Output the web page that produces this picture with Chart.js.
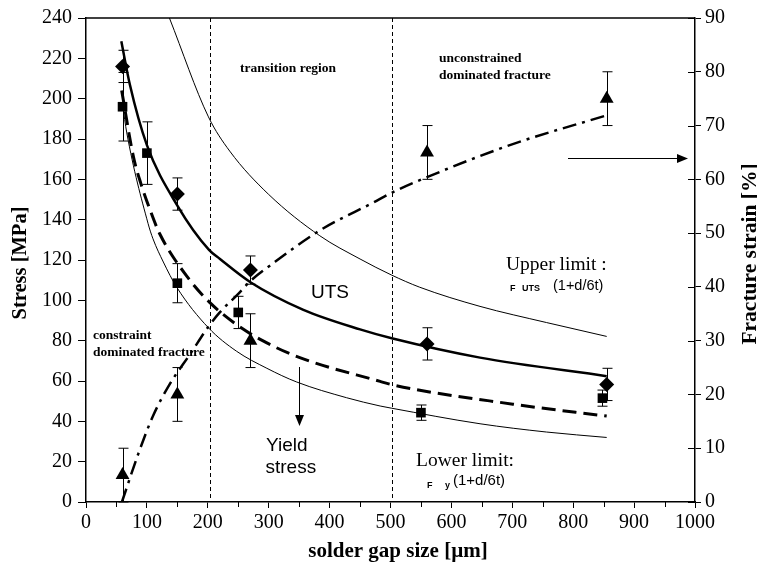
<!DOCTYPE html>
<html>
<head>
<meta charset="utf-8">
<script src="https://cdn.jsdelivr.net/npm/chart.js@4.4.1/dist/chart.umd.min.js"></script>
<style>
    html, body { margin: 0; padding: 0; background: #fff; }
</style>
</head>
<body>
<canvas id="stressChart" width="757" height="568"></canvas>
<script>
// measured points with error bars
const utsX = [60, 150, 270, 560, 855];
const utsY = [216, 152.7, 115, 78.4, 58.3];
const utsErr = [8, 8, 7, 8, 8];

const yieldX = [60, 100, 150, 250, 550, 848];
const yieldY = [196, 173, 108.5, 94, 44.3, 51.5];
const yieldErr = [17, 15.5, 9.7, 8, 3.8, 4];

const strainX = [60, 150, 270, 560, 855];
const strainY = [5, 20, 30, 65, 75];
const strainErr = [5, 5, 5, 5, 5];

// curves
const utsFitX = [58, 72, 100, 150, 202, 220, 270, 357, 450, 502, 647, 855];
const utsFitY = [228.5, 207, 177, 147, 125, 120.5, 109, 95.3, 85.6, 81.2, 71.6, 62.4];

const yieldFitX = [58.6, 78, 90, 105, 121, 168, 203, 247, 290, 350, 483, 502, 701, 855];
const yieldFitY = [204, 171, 158, 145, 133, 111, 99, 88, 80, 71.7, 59.8, 58.2, 48.5, 42.6];

const upperX = [137, 201, 236, 300, 384, 450, 502, 548, 647, 756, 855];
const upperY = [240, 191, 174, 152.5, 132, 120.5, 112.5, 106.5, 97, 89, 82.1];

const lowerX = [60, 67, 102, 110, 127, 149, 201, 247, 297, 346, 428, 483, 502, 647, 756, 855];
const lowerY = [197, 183, 138, 130.5, 119, 106.5, 86.4, 74.8, 66.3, 59.5, 51.7, 47.6, 46.5, 38.8, 34.7, 32];

const strainFitX = [59, 86, 110, 138, 171, 201, 220, 250, 269, 305, 384, 472, 502, 562, 702, 852];
const strainFitY = [0, 9, 16, 22, 27.5, 32.6, 35.3, 38.7, 41, 44.2, 50.5, 55.7, 57.5, 60.5, 66.6, 71.8];

// region borders
const regionLines = [203, 502];

const xTicks = { min: 0, max: 1000, step: 100 };
const stressTicks = { min: 0, max: 240, step: 20 };
const strainTicks = { min: 0, max: 90, step: 10 };

const SERIF = '"Liberation Serif", "Times New Roman", serif';
const SANS = '"Liberation Sans", Arial, sans-serif';

function pts(xs, ys) {
    return xs.map((x, i) => ({ x: x, y: ys[i] }));
}

function curve(label, xs, ys, axis, width, dash) {
    return {
        label: label,
        data: pts(xs, ys),
        yAxisID: axis,
        borderColor: '#000',
        borderWidth: width,
        borderDash: dash,
        pointRadius: 0,
        fill: false,
        cubicInterpolationMode: 'monotone',
        order: 2
    };
}

function markers(label, xs, ys, axis, style, radius) {
    return {
        label: label,
        data: pts(xs, ys),
        yAxisID: axis,
        showLine: false,
        pointStyle: style,
        pointRadius: radius,
        pointBackgroundColor: '#000',
        pointBorderColor: '#000',
        pointBorderWidth: 0,
        order: 1
    };
}

// error bars, guide lines, texts
const extras = {
    id: 'extras',
    beforeDatasetsDraw(chart) {
        const ctx = chart.ctx;
        const a = chart.chartArea;
        const x = chart.scales.x;
        ctx.save();
        ctx.strokeStyle = '#000';
        ctx.lineWidth = 1;
        ctx.setLineDash([4, 3]);
        regionLines.forEach(v => {
            const px = Math.round(x.getPixelForValue(v)) + 0.5;
            ctx.beginPath();
            ctx.moveTo(px, a.top);
            ctx.lineTo(px, a.bottom);
            ctx.stroke();
        });
        ctx.setLineDash([]);

        const bars = [
            [utsX, utsY, utsErr, 'y'],
            [yieldX, yieldY, yieldErr, 'y'],
            [strainX, strainY, strainErr, 'y2']
        ];
        bars.forEach(([xs, ys, es, axis]) => {
            const s = chart.scales[axis];
            xs.forEach((v, i) => {
                const px = Math.round(x.getPixelForValue(v)) + 0.5;
                const top = s.getPixelForValue(ys[i] + es[i]);
                const bot = s.getPixelForValue(Math.max(ys[i] - es[i], 0));
                ctx.beginPath();
                ctx.moveTo(px, top);
                ctx.lineTo(px, bot);
                ctx.moveTo(px - 5, top);
                ctx.lineTo(px + 5, top);
                ctx.moveTo(px - 5, bot);
                ctx.lineTo(px + 5, bot);
                ctx.stroke();
            });
        });
        ctx.restore();
    },
    afterDraw(chart) {
        const ctx = chart.ctx;
        const a = chart.chartArea;
        const x = chart.scales.x;
        const y2 = chart.scales.y2;
        ctx.save();
        ctx.strokeStyle = '#000';
        ctx.fillStyle = '#000';

        // frame top
        ctx.lineWidth = 1.5;
        ctx.beginPath();
        ctx.moveTo(a.left, a.top);
        ctx.lineTo(a.right, a.top);
        ctx.stroke();

        // inner part of right ticks, minor x ticks
        ctx.lineWidth = 1;
        ctx.beginPath();
        for (let v = strainTicks.min; v <= strainTicks.max; v += strainTicks.step) {
            const py = Math.round(y2.getPixelForValue(v)) + 0.5;
            ctx.moveTo(a.right - 7, py);
            ctx.lineTo(a.right, py);
        }
        for (let v = xTicks.min + 50; v < xTicks.max; v += xTicks.step) {
            const px = Math.round(x.getPixelForValue(v)) + 0.5;
            ctx.moveTo(px, a.bottom);
            ctx.lineTo(px, a.bottom + 5);
        }
        ctx.stroke();

        // arrows
        function arrow(x1, y1, x2, y2) {
            const ang = Math.atan2(y2 - y1, x2 - x1);
            ctx.beginPath();
            ctx.moveTo(x1, y1);
            ctx.lineTo(x2 - 9 * Math.cos(ang), y2 - 9 * Math.sin(ang));
            ctx.stroke();
            ctx.beginPath();
            ctx.moveTo(x2, y2);
            ctx.lineTo(x2 - 11 * Math.cos(ang) + 4.5 * Math.sin(ang), y2 - 11 * Math.sin(ang) - 4.5 * Math.cos(ang));
            ctx.lineTo(x2 - 11 * Math.cos(ang) - 4.5 * Math.sin(ang), y2 - 11 * Math.sin(ang) + 4.5 * Math.cos(ang));
            ctx.closePath();
            ctx.fill();
        }
        arrow(568, 158.5, 688, 158.5);
        arrow(299.5, 367, 299.5, 426);

        function text(str, px, py, font) {
            ctx.font = font;
            ctx.fillText(str, px, py);
        }
        ctx.textBaseline = 'middle';
        ctx.textAlign = 'left';
        text('transition region', 240, 69, 'bold 13.5px ' + SERIF);
        text('unconstrained', 439, 59, 'bold 13.5px ' + SERIF);
        text('dominated fracture', 439, 76, 'bold 13.5px ' + SERIF);
        text('constraint', 93, 336, 'bold 13.5px ' + SERIF);
        text('dominated fracture', 93, 353, 'bold 13.5px ' + SERIF);
        text('UTS', 311, 293, '19px ' + SANS);
        text('Yield', 266, 446, '19px ' + SANS);
        text('stress', 265.5, 468, '19px ' + SANS);
        text('Upper limit :', 506, 265, '19.5px ' + SERIF);
        text('F', 510, 289, 'bold 9px ' + SANS);
        text('UTS', 522, 289, 'bold 9px ' + SANS);
        text('(1+d/6t)', 553, 286, '14.5px ' + SANS);
        text('Lower limit:', 416, 461, '19.5px ' + SERIF);
        text('F', 427, 486, 'bold 9px ' + SANS);
        text('y', 445, 486, 'bold 9px ' + SANS);
        text('(1+d/6t)', 453, 481, '15px ' + SANS);

        // axis titles
        ctx.textAlign = 'center';
        text('solder gap size [\u00b5m]', 398, 552, 'bold 21px ' + SERIF);
        ctx.translate(21, 263);
        ctx.rotate(-Math.PI / 2);
        text('Stress [MPa]', 0, 0, 'bold 20.5px ' + SERIF);
        ctx.rotate(Math.PI / 2);
        ctx.translate(-21, -263);
        ctx.translate(750, 254);
        ctx.rotate(-Math.PI / 2);
        text('Fracture strain [%]', 0, 0, 'bold 21.5px ' + SERIF);
        ctx.restore();
    }
};

function axisLook(tickLength, padding) {
    return {
        grid: { display: true, drawOnChartArea: false, drawTicks: true, tickLength: tickLength, color: '#000', lineWidth: 1 },
        border: { display: true, color: '#000', width: 1.5 },
        ticks: {
            color: '#000',
            font: { family: SERIF, size: 20 },
            padding: padding,
            callback: v => String(v)
        }
    };
}

const xAxis = axisLook(6, 3);
xAxis.type = 'linear';
xAxis.min = xTicks.min;
xAxis.max = xTicks.max;
xAxis.ticks.stepSize = xTicks.step;
xAxis.ticks.maxRotation = 0;
xAxis.afterFit = s => { s.height = 66; };

const yAxis = axisLook(8, 6);
yAxis.position = 'left';
yAxis.min = stressTicks.min;
yAxis.max = stressTicks.max;
yAxis.ticks.stepSize = stressTicks.step;
yAxis.afterFit = s => { s.width = 86; };

const y2Axis = axisLook(6, 4);
y2Axis.position = 'right';
y2Axis.min = strainTicks.min;
y2Axis.max = strainTicks.max;
y2Axis.ticks.stepSize = strainTicks.step;
y2Axis.afterFit = s => { s.width = 62; };

const ctx = document.getElementById('stressChart').getContext('2d');
const chart = new Chart(ctx, {
    type: 'line',
    data: {
        datasets: [
            curve('Upper limit', upperX, upperY, 'y', 1, []),
            curve('Lower limit', lowerX, lowerY, 'y', 1, []),
            curve('UTS', utsFitX, utsFitY, 'y', 2.5, []),
            curve('Yield stress', yieldFitX, yieldFitY, 'y', 3, [14, 7]),
            curve('Fracture strain', strainFitX, strainFitY, 'y2', 2.5, [14, 6, 3, 6]),
            markers('UTS data', utsX, utsY, 'y', 'rectRot', 7.5),
            markers('Yield data', yieldX, yieldY, 'y', 'rect', 6.8),
            markers('Strain data', strainX, strainY, 'y2', 'triangle', 8)
        ]
    },
    options: {
        responsive: false,
        animation: false,
        layout: { padding: { top: 16, left: 0, right: 0, bottom: 0 } },
        plugins: {
            legend: { display: false },
            tooltip: { enabled: false }
        },
        scales: {
            x: xAxis,
            y: yAxis,
            y2: y2Axis
        }
    },
    plugins: [extras]
});
</script>
</body>
</html>
